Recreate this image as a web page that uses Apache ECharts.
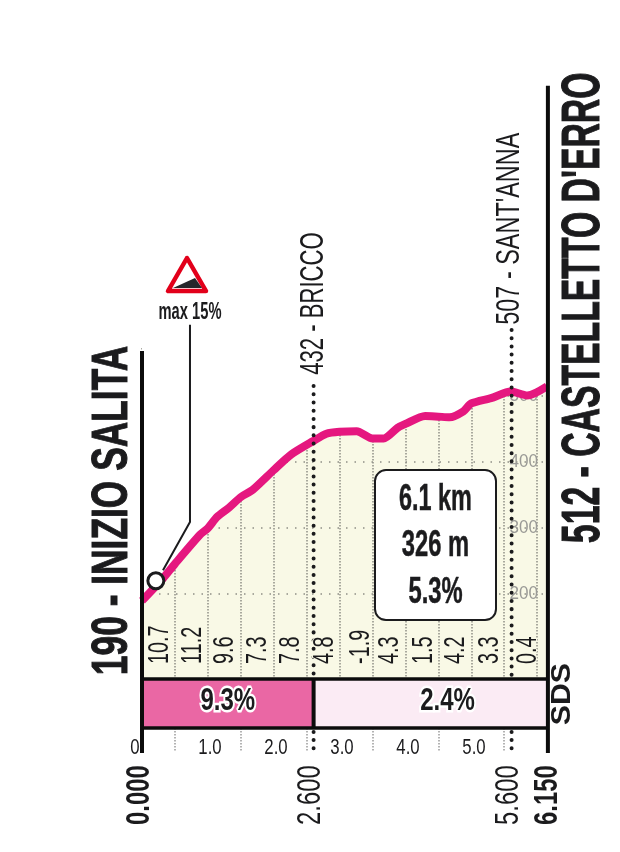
<!DOCTYPE html>
<html><head><meta charset="utf-8">
<style>html,body{margin:0;padding:0;background:#fff}#c{width:620px;height:852px}</style>
<script src="https://cdn.jsdelivr.net/npm/echarts@6/dist/echarts.min.js"></script>
</head><body><div id="c"></div>
<script>
const profileKm  = [0,0.32,0.5,0.88,1.0,1.14,1.32,1.5,1.68,2.0,2.27,2.6,2.8,3.0,3.26,3.5,3.67,3.88,4.0,4.3,4.5,4.67,4.88,5.0,5.3,5.6,5.85,6.15];
const profileEle = [190,224,246,290,300,317,331,347,358,388,412,432,443,446,447,436,436,452,458,470,469,468,477,489,497,507,501,515];
const gradients  = ['10.7','11.2','9.6','7.3','7.8','4.8','-1.9','4.3','1.5','4.2','3.3','0.4'];
const gradientKm = [0.27,0.77,1.26,1.76,2.26,2.77,3.31,3.76,4.27,4.76,5.27,5.85];
const sectors    = [2.6,3.55];
const sectorText = ['9.3%','2.4%'];
const eleTicks   = [200,300,400,500];
const kmTicks    = [0,1,2,3,4,5];
const kmTickText = ['0','1.0','2.0','3.0','4.0','5.0'];
const kmMinor    = [0.5,1.5,2.5,3.5,4.5,5.5];
const poiKm      = [2.6,5.6];
const poiText    = ['432 - BRICCO',"507 - SANT'ANNA"];
const distKm     = [0,2.6,5.6,6.15];
const distText   = ['0.000','2.600','5.600','6.150'];
const stats      = ['6.1 km','326 m','5.3%'];
const INK='#1b1b1d', FONT='"Liberation Sans",sans-serif', UP=Math.PI/2;

function lineS(pts,width,color,type,cap){
  return {type:'line',xAxisIndex:2,yAxisIndex:2,z:6,symbol:'none',silent:true,clip:false,data:pts,
    lineStyle:{width:width,color:color,type:type||'solid',cap:cap||'butt',join:'miter'}};
}
function textS(items,z,axisIdx){
  const ai=axisIdx===undefined?2:axisIdx;
  return {type:'custom',coordinateSystem:'cartesian2d',xAxisIndex:ai,yAxisIndex:ai,z:z||8,silent:true,clip:false,
    encode:{x:0,y:1},data:items.map(i=>[i.km,i.ele]),
    renderItem:(params,api)=>{
      const it=items[params.dataIndex], p=api.coord([it.km,it.ele]);
      return {type:'text',x:p[0]+(it.dx||0),y:p[1]+(it.dy||0),rotation:it.rot===0?0:UP,scaleX:it.sx||1,scaleY:1,
        style:{text:it.text,x:0,y:0,fontSize:it.fs,fontFamily:FONT,fontWeight:it.bold?'bold':'normal',fill:it.fill||INK,
          align:it.align||'left',verticalAlign:'middle',stroke:it.stroke||it.fill||INK,lineWidth:it.lw||0}};
    }};
}
const dots=[0.01,8.2];
const poiSegs=[];
poiKm.forEach((k,i)=>{
  const top=i===0?515:600;
  poiSegs.push(lineS([[k,top],[k,76]],4,INK,dots,'round'));
  poiSegs.push(lineS([[k,-9],[k,-41]],4,INK,dots,'round'));
});
const option={
  animation:false,
  backgroundColor:'#fff',
  grid:[
    {left:142,width:405,top:348,height:330,show:true,backgroundColor:'#f9f9e6',borderWidth:0},
    {left:142,width:405,top:679,height:49,borderWidth:0},
    {left:0,width:620,top:0,height:852,borderWidth:0}
  ],
  xAxis:[
    {type:'value',gridIndex:0,min:0,max:6.15,interval:0.5,axisLine:{show:false},axisTick:{show:false},axisLabel:{show:false},
      splitLine:{show:true,lineStyle:{color:'#8f8f86',width:1.5,type:[1.5,1.5]}}},
    {type:'value',gridIndex:1,min:0,max:6.15,axisLine:{show:false},splitLine:{show:false},axisLabel:{show:false},
      axisTick:{show:true,customValues:kmMinor,length:24,lineStyle:{color:'#9a9a9a',width:1.5,type:[1.5,1.5]}}},
    {type:'value',gridIndex:2,min:-142/66,max:478/66,show:false}
  ],
  yAxis:[
    {type:'value',gridIndex:0,min:73,max:573,position:'right',axisLine:{show:false},axisLabel:{show:false},
      axisTick:{show:false,customValues:eleTicks},
      splitLine:{show:true,lineStyle:{color:'#8f8f86',width:1.5,type:[1.5,7]}}},
    {type:'category',gridIndex:1,data:['band'],show:false},
    {type:'value',gridIndex:2,min:-191,max:1100,show:false}
  ],
  series:[
    textS(eleTicks.map(v=>({km:6.15,ele:v,dx:-9,text:String(v),fs:19,sx:0.9,rot:0,align:'right',fill:'#9a9a96'})),1,0),
    {type:'line',xAxisIndex:0,yAxisIndex:0,z:2,symbol:'none',silent:true,smooth:0.25,lineStyle:{width:0,opacity:0},
      areaStyle:{color:'#fff',opacity:1,origin:'end'},data:profileKm.map((k,i)=>[k,profileEle[i]])},
    {type:'line',xAxisIndex:0,yAxisIndex:0,z:3,symbol:'none',silent:true,smooth:0.25,clip:false,
      lineStyle:{width:8,color:'#e5177f',cap:'butt',join:'round'},data:profileKm.map((k,i)=>[k,profileEle[i]])},
    {type:'bar',xAxisIndex:1,yAxisIndex:1,stack:'s',barWidth:'100%',data:[sectors[0]],z:4,itemStyle:{color:'#ea67a4'}},
    {type:'bar',xAxisIndex:1,yAxisIndex:1,stack:'s',barWidth:'100%',data:[sectors[1]],z:4,itemStyle:{color:'#fbebf4'}},
    lineS([[0,71],[6.15,71]],3.5,'#0c0c0c'),
    lineS([[0,-3],[6.15,-3]],3.5,'#0c0c0c'),
    lineS([[2.6,71],[2.6,-3]],4,'#0c0c0c'),
    lineS([[0,-41],[0,568]],4,'#0c0c0c'),
    lineS([[6.15,-41],[6.15,970]],4,'#0c0c0c'),
    ...poiSegs,
    lineS([[0.727,608],[0.727,309],[0.318,236]],2,INK),
    {type:'scatter',xAxisIndex:2,yAxisIndex:2,z:7,silent:true,clip:false,symbol:'circle',symbolSize:16,data:[[0.21,220]],
      itemStyle:{color:'#fff',borderColor:INK,borderWidth:3,opacity:1}},
    {type:'custom',coordinateSystem:'cartesian2d',xAxisIndex:2,yAxisIndex:2,z:7,silent:true,clip:false,encode:{x:0,y:1},data:[[4.447,274]],
      renderItem:(params,api)=>{const p=api.coord([api.value(0),api.value(1)]);
        return {type:'rect',shape:{x:p[0]-60.5,y:p[1]-75,width:121,height:150,r:11},style:{fill:'#fff',stroke:INK,lineWidth:2}};}},
    textS([
      {km:0,ele:77,dx:-29,text:'190 - INIZIO SALITA',fs:50,sx:0.707,bold:1,lw:1},
      {km:6.15,ele:277,dx:36,text:"512 - CASTELLETTO D'ERRO",fs:54,sx:0.625,bold:1,lw:1},
      {km:poiKm[0],ele:532,text:poiText[0],fs:33,sx:0.67},
      {km:poiKm[1],ele:608,dx:-2,text:poiText[1],fs:33,sx:0.71},
      {km:distKm[0],ele:-150,dx:-2,text:distText[0],fs:34,sx:0.7,bold:1},
      {km:distKm[1],ele:-150,dx:-3,text:distText[1],fs:34,sx:0.7},
      {km:distKm[2],ele:-150,dx:-3,text:distText[2],fs:34,sx:0.7},
      {km:distKm[3],ele:-150,text:distText[3],fs:34,sx:0.7,bold:1},
      {km:6.15,ele:1,dx:15,text:'SDS',fs:27,sx:1.12,bold:1},
      ...gradients.map((g,i)=>({km:gradientKm[i],ele:94,text:g,fs:30,sx:0.66,stroke:'#f9f9e6',lw:2})),
      ...kmTicks.map((k,i)=>({km:k,ele:-34,dx:k===0?-7:2,text:kmTickText[i],fs:21.5,sx:0.78,rot:0,align:'center'})),
      {km:sectors[0]/2,ele:37,text:sectorText[0],fs:32,sx:0.75,rot:0,align:'center',bold:1,stroke:'#fff',lw:5},
      {km:4.63,ele:37,text:sectorText[1],fs:32,sx:0.75,rot:0,align:'center',bold:1,stroke:'#fff',lw:5},
      {km:4.447,ele:343,text:stats[0],fs:36,sx:0.65,rot:0,align:'center',bold:1,lw:0.5},
      {km:4.447,ele:272,text:stats[1],fs:36,sx:0.66,rot:0,align:'center',bold:1,lw:0.5},
      {km:4.447,ele:202,text:stats[2],fs:36,sx:0.66,rot:0,align:'center',bold:1,lw:0.5},
      {km:0.727,ele:627,text:'max 15%',fs:23,sx:0.64,rot:0,align:'center',bold:1}
    ])
  ],
  graphic:[
    {type:'polygon',z:20,shape:{points:[[187,258],[168,291],[206,291]]},style:{fill:'#fff',stroke:'#e2001a',lineWidth:4.5,lineJoin:'round'}},
    {type:'polygon',z:21,shape:{points:[[173,288],[195,278],[202,288]]},style:{fill:'#26262a'}}
  ]
};
echarts.init(document.getElementById('c'),null,{renderer:'canvas'}).setOption(option);
</script></body></html>
